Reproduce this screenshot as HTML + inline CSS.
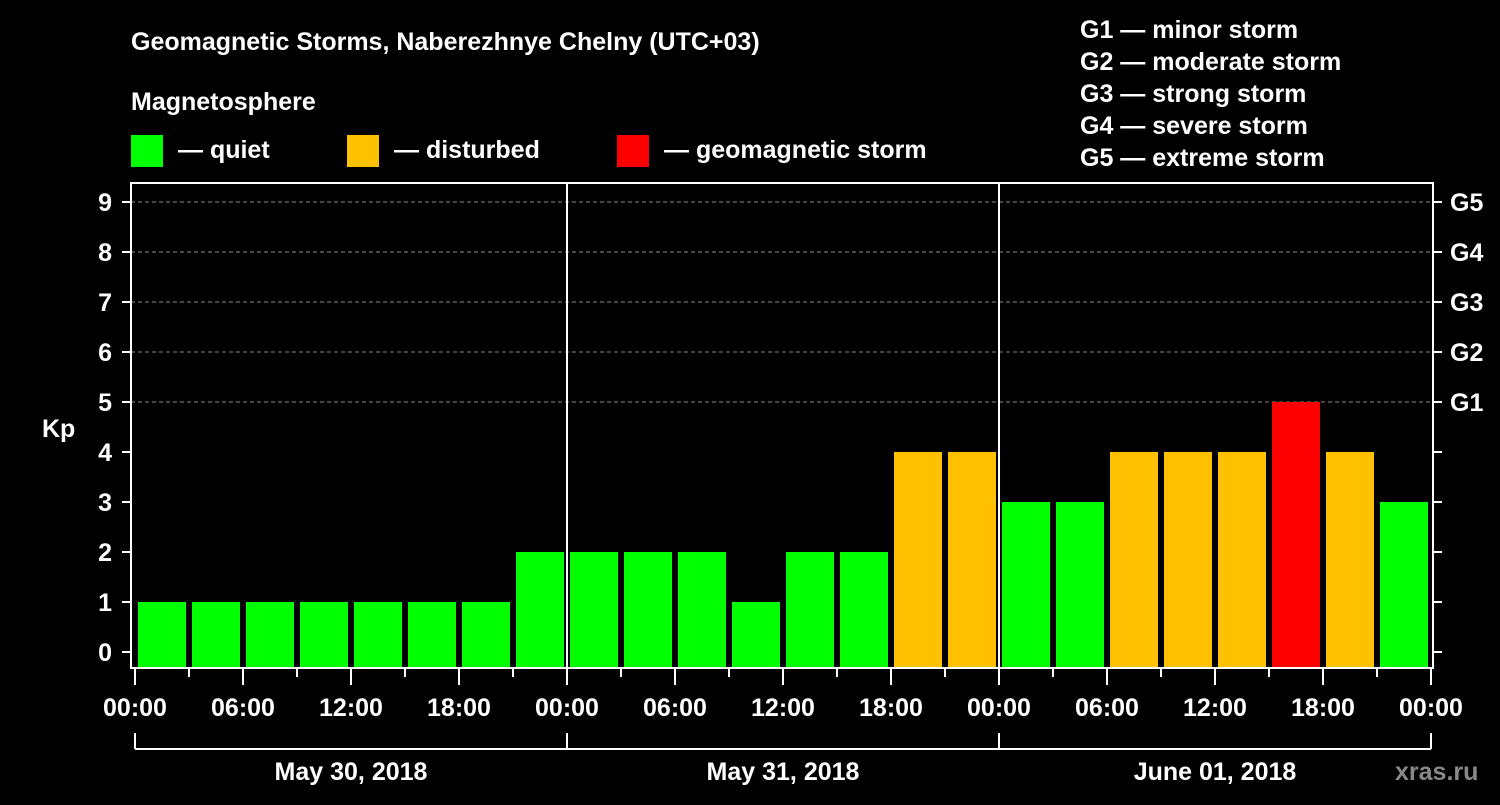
<!DOCTYPE html>
<html><head><meta charset="utf-8"><style>
body{margin:0;background:#000;width:1500px;height:800px;overflow:hidden}
svg{font-family:"Liberation Sans",Arial,sans-serif;font-weight:bold;fill:#fff}
</style></head><body>
<svg id="chart" width="1500" height="800" viewBox="0 0 1500 800">
<text x="131" y="50" font-size="25">Geomagnetic Storms, Naberezhnye Chelny (UTC+03)</text>
<text x="131" y="110" font-size="25">Magnetosphere</text>
<rect x="131" y="135" width="32" height="32" fill="#00ff00"/>
<text x="178" y="158" font-size="25">— quiet</text>
<rect x="347" y="135" width="32" height="32" fill="#ffc000"/>
<text x="394" y="158" font-size="25">— disturbed</text>
<rect x="617" y="135" width="32" height="32" fill="#ff0000"/>
<text x="664" y="158" font-size="25">— geomagnetic storm</text>
<g font-size="25">
<text x="1080" y="38">G1 — minor storm</text>
<text x="1080" y="70">G2 — moderate storm</text>
<text x="1080" y="102">G3 — strong storm</text>
<text x="1080" y="134">G4 — severe storm</text>
<text x="1080" y="166">G5 — extreme storm</text>
</g>
<text x="42" y="437" font-size="25">Kp</text>
<text x="1395" y="780" font-size="25" fill="#888" style="fill:#888">xras.ru</text>
<g id="grid"></g><g id="bars"></g><g id="axes"></g>
</svg>
<script>
const kpValues=[1,1,1,1,1,1,1,2, 2,2,2,1,2,2,4,4, 3,3,4,4,4,5,4,3];
const dayLabels=["May 30, 2018","May 31, 2018","June 01, 2018"];
const yTicks=[0,1,2,3,4,5,6,7,8,9];
const gLabels=["G1","G2","G3","G4","G5"];
const xTickLabels=["00:00","06:00","12:00","18:00"];
const NS="http://www.w3.org/2000/svg";
const L=131,R=1433,T=183,B=668,X0=135,SLOT=54;
const y=v=>652-v*50;
const x=i=>X0+i*SLOT;
function mk(tag,attrs,parent,text){const e=document.createElementNS(NS,tag);for(const k in attrs)e.setAttribute(k,attrs[k]);if(text!==undefined)e.textContent=text;parent.appendChild(e);return e;}
const grid=document.getElementById('grid'),bars=document.getElementById('bars'),axes=document.getElementById('axes');
yTicks.forEach(v=>{
 if(v>=5){const g=mk('line',{x1:L,x2:R,y1:y(v),y2:y(v),stroke:'#888','stroke-dasharray':'4,3','stroke-width':1},grid);
 
 }
 const t=mk('line',{x1:122,x2:L,y1:y(v),y2:y(v),stroke:'#fff','stroke-width':2},axes);
 
 
 const lb=mk('text',{x:112,y:y(v)+9,'font-size':25,'text-anchor':'end'},axes,String(v));
 
 
 const rt=mk('line',{x1:R,x2:1442,y1:y(v),y2:y(v),stroke:'#fff','stroke-width':2},axes);
 
 
});
gLabels.forEach((g,i)=>{const t=mk('text',{x:1450,y:y(5+i)+9,'font-size':25},axes,g);
 
 });
kpValues.forEach((v,i)=>{
 const c=v>=5?'#ff0000':v>=4?'#ffc000':'#00ff00';
 const r=mk('rect',{x:x(i)+3,y:y(v),width:48,height:B-y(v),fill:c},bars);
 
 
});
const frame=mk('rect',{x:L,y:T,width:R-L,height:B-T,fill:'none',stroke:'#fff','stroke-width':2},axes);


for(let d=1;d<dayLabels.length;d++){const s=mk('line',{x1:x(d*8),x2:x(d*8),y1:T,y2:B,stroke:'#fff','stroke-width':2},axes);
 
 }
for(let i=0;i<=kpValues.length;i++){
 const major=i%2===0;
 const t=mk('line',{x1:x(i),x2:x(i),y1:B,y2:major?685:677,stroke:'#fff','stroke-width':2},axes);
 
 
 if(major){const lb=mk('text',{x:x(i),y:716,'font-size':25,'text-anchor':'middle'},axes,xTickLabels[(i/2)%4]);
 
 }
}
const br=mk('line',{x1:x(0),x2:x(24),y1:749,y2:749,stroke:'#fff','stroke-width':2},axes);


for(let d=0;d<=dayLabels.length;d++){const v=mk('line',{x1:x(d*8),x2:x(d*8),y1:733,y2:749,stroke:'#fff','stroke-width':2},axes);
 
 }
dayLabels.forEach((d,i)=>{const t=mk('text',{x:x(i*8+4),y:780,'font-size':25,'text-anchor':'middle'},axes,d);
 
 });
</script>
</body></html>
